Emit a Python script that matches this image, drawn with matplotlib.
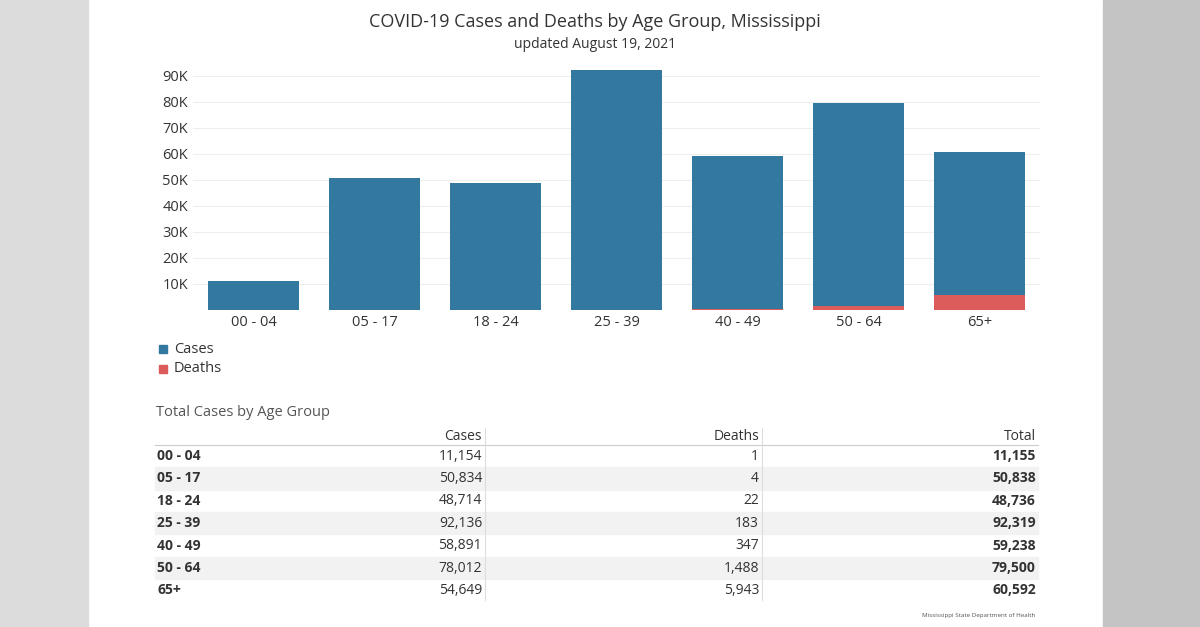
import matplotlib.pyplot as plt
from matplotlib.patches import Rectangle
from matplotlib.ticker import FuncFormatter

ages = ['00 - 04', '05 - 17', '18 - 24', '25 - 39', '40 - 49', '50 - 64', '65+']
cases = [11154, 50834, 48714, 92136, 58891, 78012, 54649]
deaths = [1, 4, 22, 183, 347, 1488, 5943]
totals = [11155, 50838, 48736, 92319, 59238, 79500, 60592]

BLUE = '#33799f'
RED = '#dc5b5b'
TXT = '#333333'

plt.rcParams['font.family'] = ['Open Sans', 'DejaVu Sans']
W, H = 1200, 627
fig = plt.figure(figsize=(12, 6.27), dpi=100)

def fx(x):
    return x / W

def fy(y):
    return 1 - y / H

# side panels
fig.patches.append(Rectangle((0, 0), fx(88), 1, transform=fig.transFigure, color='#dcdcdc', zorder=0))
fig.patches.append(Rectangle((fx(1103), 0), 1, 1, transform=fig.transFigure, color='#c4c4c4', zorder=0))

fig.text(fx(595), fy(22), 'COVID-19 Cases and Deaths by Age Group, Mississippi', ha='center', va='center', fontsize=13, color=TXT)
fig.text(fx(595), fy(44), 'updated August 19, 2021', ha='center', va='center', fontsize=10, color=TXT)

ax = fig.add_axes([fx(193), fy(310), fx(1040 - 193), (310 - 68) / H])
x = range(len(ages))
ax.bar(x, deaths, width=0.75, color=RED, zorder=3)
ax.bar(x, cases, width=0.75, bottom=deaths, color=BLUE, zorder=3)
ax.set_xlim(-0.5, len(ages) - 0.5)
ax.set_ylim(0, 93000)
ax.set_yticks(range(10000, 100000, 10000))
ax.yaxis.set_major_formatter(FuncFormatter(lambda v, p: f'{int(v / 1000)}K'))
ax.set_xticks(list(x))
ax.set_xticklabels(ages)
ax.tick_params(length=0, labelsize=10.5, labelcolor=TXT)
ax.grid(axis='y', color='#eeeeee', lw=0.8, zorder=0)
for s in ax.spines.values():
    s.set_visible(False)
ax.axhline(0, color='#dddddd', lw=0.8)

# legend
for i, (lab, c) in enumerate([('Cases', BLUE), ('Deaths', RED)]):
    yy = 349 + i * 20
    fig.patches.append(Rectangle((fx(159), fy(yy + 4)), fx(8), 8 / H, transform=fig.transFigure, color=c))
    fig.text(fx(174), fy(yy), lab, va='center', fontsize=10.5, color=TXT)

# table
fig.text(fx(156), fy(413), 'Total Cases by Age Group', va='center', fontsize=10.5, color='#555555')
fig.text(fx(482), fy(437), 'Cases', ha='right', va='center', fontsize=10, color=TXT)
fig.text(fx(759), fy(437), 'Deaths', ha='right', va='center', fontsize=10, color=TXT)
fig.text(fx(1036), fy(437), 'Total', ha='right', va='center', fontsize=10, color=TXT)
fig.lines.append(plt.Line2D([fx(155), fx(1038)], [fy(445), fy(445)], transform=fig.transFigure, color='#cccccc', lw=0.8))
row_h = 22.4
for i, age in enumerate(ages):
    yc = 456 + i * row_h
    if i % 2 == 1:
        fig.patches.append(Rectangle((fx(155), fy(yc + row_h / 2)), fx(1038 - 155), row_h / H,
                                     transform=fig.transFigure, color='#f2f2f2', zorder=0))
    fig.text(fx(157), fy(yc), age, va='center', fontsize=10, color=TXT, weight='bold')
    fig.text(fx(482), fy(yc), f'{cases[i]:,}', ha='right', va='center', fontsize=10, color=TXT)
    fig.text(fx(759), fy(yc), f'{deaths[i]:,}', ha='right', va='center', fontsize=10, color=TXT)
    fig.text(fx(1036), fy(yc), f'{totals[i]:,}', ha='right', va='center', fontsize=10, color=TXT, weight='bold')
for xv in (485, 762):
    fig.lines.append(plt.Line2D([fx(xv), fx(xv)], [fy(428), fy(600)], transform=fig.transFigure, color='#dddddd', lw=0.8))

fig.text(fx(1035), fy(616), 'Mississippi State Department of Health', ha='right', va='center', fontsize=4.5, color='#555555')

fig.savefig('out.png', dpi=100)
